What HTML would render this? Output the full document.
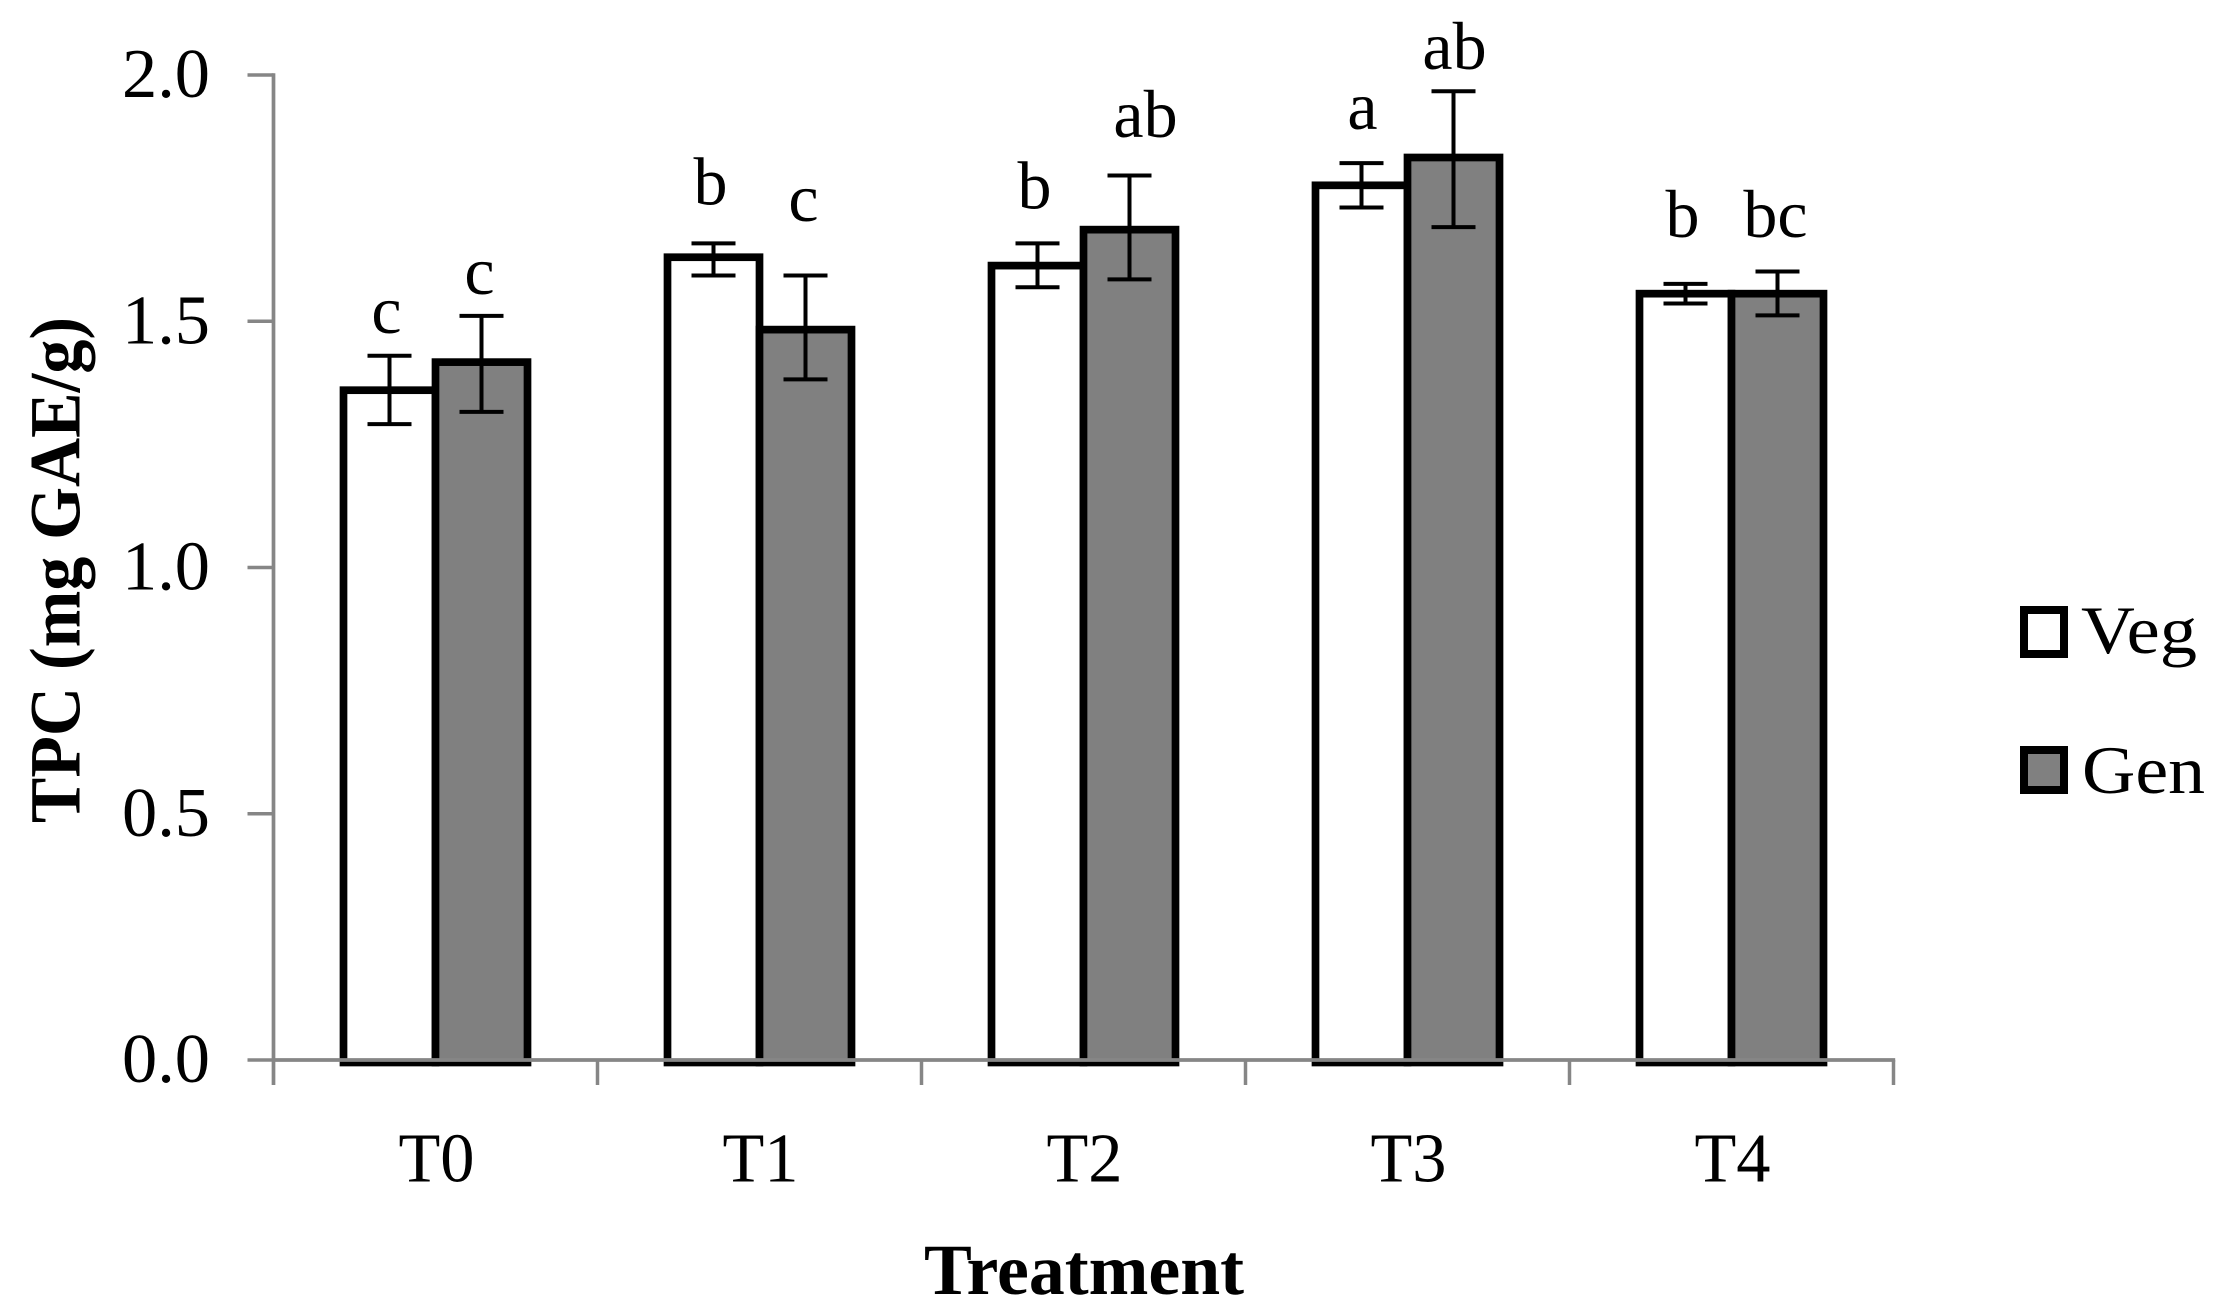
<!DOCTYPE html>
<html lang="en">
<head>
<meta charset="utf-8">
<title>TPC by Treatment</title>
<style>
html,body{margin:0;padding:0;background:#fff;}
svg{display:block;}
text{font-family:"Liberation Serif",serif;fill:#000;font-size:68px;}
</style>
</head>
<body>
<svg id="chart" xmlns="http://www.w3.org/2000/svg" width="2231" height="1309" viewBox="0 0 2231 1309">
  <rect x="0" y="0" width="2231" height="1309" fill="#fff"/>
  <g id="bars"></g>
  <g id="axes"></g>
  <g id="errors"></g>
  <g id="letters"></g>
  <text transform="translate(79.5,570) rotate(-90)" text-anchor="middle" font-weight="bold" style="font-size:72px" textLength="506" lengthAdjust="spacingAndGlyphs">TPC (mg GAE/g)</text>
  <text x="1084" y="1294" text-anchor="middle" font-weight="bold" style="font-size:72px" textLength="320" lengthAdjust="spacingAndGlyphs">Treatment</text>
  <g>
    <rect x="2024" y="610" width="40" height="44" fill="#fff" stroke="#000" stroke-width="8"/>
    <text x="2081" y="653" textLength="116" lengthAdjust="spacingAndGlyphs">Veg</text>
    <rect x="2024" y="750" width="40" height="40" fill="#808080" stroke="#000" stroke-width="8"/>
    <text x="2082" y="793" textLength="123" lengthAdjust="spacingAndGlyphs">Gen</text>
  </g>
</svg>
<script>
const categories = ["T0", "T1", "T2", "T3", "T4"];
const vegValues = [1.360, 1.630, 1.613, 1.776, 1.556];
const genValues = [1.417, 1.483, 1.686, 1.8325, 1.556];
const vegErrHigh = [1.430, 1.658, 1.658, 1.821, 1.576];
const vegErrLow = [1.291, 1.593, 1.569, 1.731, 1.536];
const genErrHigh = [1.511, 1.593, 1.796, 1.967, 1.601];
const genErrLow = [1.316, 1.382, 1.585, 1.691, 1.512];
const vegLetters = ["c", "b", "b", "a", "b"];
const genLetters = ["c", "c", "ab", "ab", "bc"];
const vegLetterGap = [0.046, 0.079, 0.071, 0.069, 0.095];
const genLetterGap = [0.044, 0.111, 0.078, 0.045, 0.070];
const yTickValues = [0, 0.5, 1, 1.5, 2];
const yTickLabels = ["0.0", "0.5", "1.0", "1.5", "2.0"];

const NS = "http://www.w3.org/2000/svg";
const AXIS_LEFT = 273.5, AXIS_RIGHT = 1893.5, AXIS_ZERO = 1060, AXIS_TOP = 75;
const AXIS_GRAY = "#868686";
const BAR_W = 92, CAP_W = 44;

function yScale(v) { return AXIS_ZERO - (AXIS_ZERO - AXIS_TOP) * v / 2; }
function band() { return (AXIS_RIGHT - AXIS_LEFT) / categories.length; }
function xCenter(i) { return AXIS_LEFT + band() * (i + 0.5); }

function make(tag, attrs, parent) {
  const el = document.createElementNS(NS, tag);
  for (const k in attrs) el.setAttribute(k, attrs[k]);
  parent.appendChild(el);
  return el;
}

const barsG = document.getElementById("bars");
const axesG = document.getElementById("axes");
const errorsG = document.getElementById("errors");
const lettersG = document.getElementById("letters");

function drawBar(x, value, fill, name) {
  const top = yScale(value);
  const el = make("rect", { x: x, y: top, width: BAR_W, height: yScale(0) + 2.5 - top, fill: fill, stroke: "#000", "stroke-width": 7.7 }, barsG);
  
  
}

function drawError(x, hi, lo, name) {
  const yh = yScale(hi), yl = yScale(lo);
  const g = make("g", { stroke: "#000", fill: "none" }, errorsG);
  
  
  make("line", { x1: x, x2: x, y1: yh, y2: yl, "stroke-width": 4 }, g);
  make("line", { x1: x - CAP_W / 2, x2: x + CAP_W / 2, y1: yh, y2: yh, "stroke-width": 4 }, g);
  make("line", { x1: x - CAP_W / 2, x2: x + CAP_W / 2, y1: yl, y2: yl, "stroke-width": 4 }, g);
}

function drawLetter(x, baseValue, text, name) {
  const el = make("text", { x: x, y: yScale(baseValue), "text-anchor": "middle" }, lettersG);
  el.textContent = text;
  
  
}

function letterNudge(text, seriesIndex, i) {
  if (text === "ab" && i === 2) return 16;
  if (text === "ab" || text === "a") return 1;
  return seriesIndex === 0 ? -3 : -2;
}

categories.forEach(function (cat, i) {
  const g = xCenter(i);
  drawBar(g - BAR_W, vegValues[i], "#fff", "bar-veg-" + cat.toLowerCase());
  drawBar(g, genValues[i], "#808080", "bar-gen-" + cat.toLowerCase());
  drawError(g - BAR_W / 2, vegErrHigh[i], vegErrLow[i], "error-veg-" + cat.toLowerCase());
  drawError(g + BAR_W / 2, genErrHigh[i], genErrLow[i], "error-gen-" + cat.toLowerCase());
  drawLetter(g - BAR_W / 2 + letterNudge(vegLetters[i], 0, i), vegErrHigh[i] + vegLetterGap[i], vegLetters[i], "letter-veg-" + cat.toLowerCase());
  drawLetter(g + BAR_W / 2 + letterNudge(genLetters[i], 1, i), genErrHigh[i] + genLetterGap[i], genLetters[i], "letter-gen-" + cat.toLowerCase());

  const label = make("text", { x: g + 1, y: 1181.5, "text-anchor": "middle", style: "font-size:70px", textLength: 76, lengthAdjust: "spacingAndGlyphs" }, axesG);
  label.textContent = cat;
  
  
});

const yAxisLine = make("line", { x1: AXIS_LEFT, x2: AXIS_LEFT, y1: yScale(2) - 1.7, y2: 1085, stroke: AXIS_GRAY, "stroke-width": 3.7 }, axesG);



const xAxisLine = make("line", { x1: AXIS_LEFT, x2: AXIS_RIGHT + 1.7, y1: yScale(0), y2: yScale(0), stroke: AXIS_GRAY, "stroke-width": 3.7 }, axesG);



yTickValues.forEach(function (v, i) {
  const y = yScale(v);
  const tick = make("line", { x1: 247.5, x2: AXIS_LEFT, y1: y, y2: y, stroke: AXIS_GRAY, "stroke-width": 3.5 }, axesG);
  
  
  const label = make("text", { x: 210, y: y + 22, "text-anchor": "end", style: "font-size:70px", textLength: 88, lengthAdjust: "spacingAndGlyphs" }, axesG);
  label.textContent = yTickLabels[i];
  
  
});

for (let i = 1; i <= categories.length; i++) {
  const x = AXIS_LEFT + band() * i;
  const tick = make("line", { x1: x, x2: x, y1: yScale(0), y2: 1085, stroke: AXIS_GRAY, "stroke-width": 3.5 }, axesG);
  
  
}
</script>
</body>
</html>
